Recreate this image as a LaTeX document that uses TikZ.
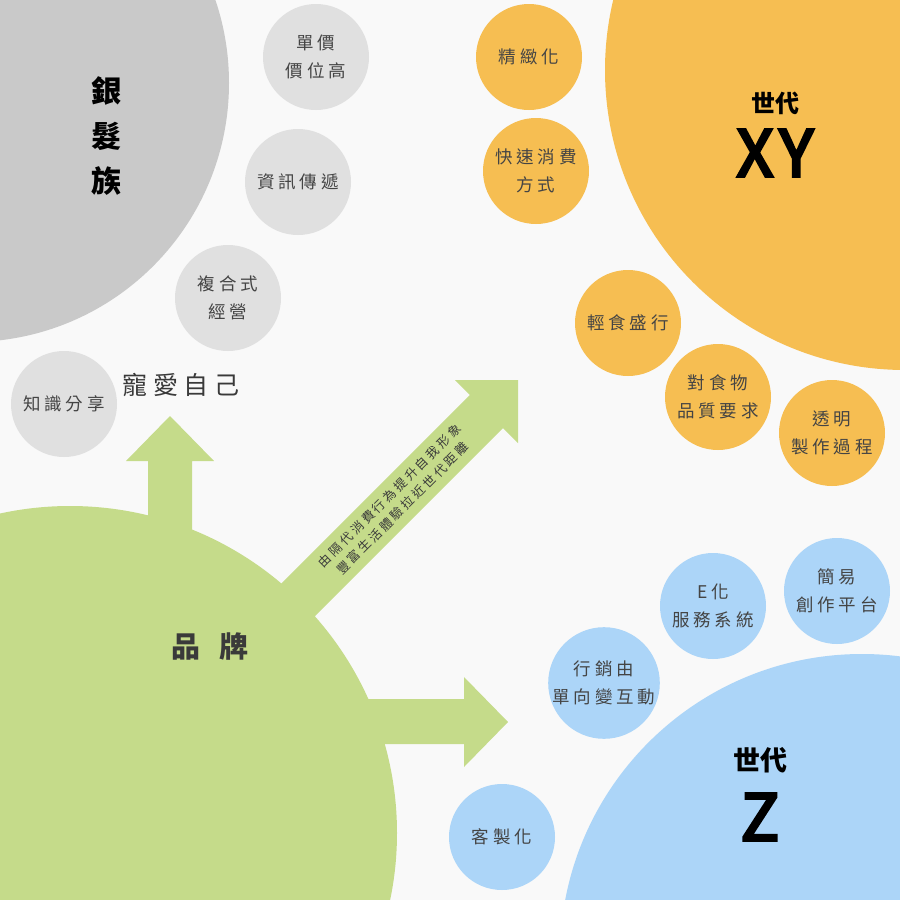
\documentclass[tikz,border=0pt]{standalone}
\usepackage{fontspec}
\setmainfont{Noto Sans CJK TC}
\newfontfamily\cjkspaced[LetterSpace=22]{Noto Sans CJK TC}
\newfontfamily\cjkheavy[FakeBold=4.5]{Noto Sans CJK TC}

\definecolor{paper}{HTML}{F9F9F9}
\definecolor{silverbig}{HTML}{C9C9C9}
\definecolor{silversmall}{HTML}{E0E0E0}
\definecolor{amber}{HTML}{F6BE52}
\definecolor{leaf}{HTML}{C5DB8A}
\definecolor{sky}{HTML}{ACD5F8}
\definecolor{ink}{HTML}{3A3A3A}
\definecolor{softink}{HTML}{444444}

\tikzset{
  bigdisc/.style={circle, inner sep=0pt, minimum size=#1},
  bubble/.style={circle, inner sep=0pt, minimum size=106pt, align=center,
    text=softink, font=\cjkspaced\fontsize{17.5}{28}\selectfont},
  title/.style={font=\bfseries\fontsize{#1}{#1}\selectfont, text=black},
  genletter/.style={font=\cjkheavy\fontsize{64}{64}\selectfont, text=black}
}

\begin{document}
\begin{tikzpicture}[x=1pt, y=-1pt]

    % Page and clipping
    \useasboundingbox (0,0) rectangle (900,900);
    \fill[paper] (0,0) rectangle (900,900);
    \clip (0,0) rectangle (900,900);

    % Large group circles
    \node[bigdisc=518pt, fill=silverbig] (silver) at (-30,83) {};
    \node[bigdisc=600pt, fill=amber] (genxy) at (905,70) {};
    \node[bigdisc=604pt, fill=sky] (genz) at (862,956) {};
    \node[bigdisc=654pt, fill=leaf] (brand) at (70,833) {};

    % Block arrows out of the brand circle
    \fill[leaf] (148,560) -- (148,461) -- (126,461) -- (170,416)
        -- (214,461) -- (192,461) -- (192,560) -- cycle;
    \fill[leaf] (350,699) -- (464,699) -- (464,677) -- (508,722)
        -- (464,767) -- (464,744) -- (350,744) -- cycle;
    \fill[leaf] (263.4,601.4) -- (469.9,394.9) -- (455,380) -- (518,380)
        -- (518,443) -- (503.1,428.1) -- (296.6,634.6) -- cycle;

    % Silver-haired group
    \node[bubble, fill=silversmall] (price) at (316,57) {單價\\價位高};
    \node[bubble, fill=silversmall] (info) at (298,182) {資訊傳遞};
    \node[bubble, fill=silversmall] (combo) at (228,298) {複合式\\經營};
    \node[bubble, fill=silversmall] (share) at (64,404) {知識分享};

    % Generation XY group
    \node[bubble, fill=amber] (refine) at (529,57) {精緻化};
    \node[bubble, fill=amber] (fast) at (536,171) {快速消費\\方式};
    \node[bubble, fill=amber] (light) at (628,323) {輕食盛行};
    \node[bubble, fill=amber] (quality) at (718,397) {對食物\\品質要求};
    \node[bubble, fill=amber] (open) at (832,433) {透明\\製作過程};

    % Generation Z group
    \node[bubble, fill=sky] (eserv) at (713,606) {E化\\服務系統};
    \node[bubble, fill=sky] (create) at (837,591) {簡易\\創作平台};
    \node[bubble, fill=sky] (market) at (604,683) {行銷由\\單向變互動};
    \node[bubble, fill=sky] (custom) at (502,837) {客製化};

    % Titles
    \node[align=center, font=\bfseries\fontsize{30}{45}\selectfont] (silverlabel) at (106,136) {銀\\髮\\族};
    \node[title=24] (xyhead) at (775,103) {世代};
    \node[genletter] (xyname) at (775,153) {X\hspace{6pt}Y};
    \node[title=27] (zhead) at (760,760) {世代};
    \node[genletter] (zname) at (760,817) {Z};
    \node[title=29, text=ink] (brandlabel) at (210,647) {品\hspace{20pt}牌};
    \node[text=ink, font=\cjkspaced\fontsize{25}{25}\selectfont] (selflove) at (181,385) {寵愛自己};

    % Label on the diagonal arrow
    \node[rotate=45, align=center, text=ink,
        font=\cjkspaced\fontsize{12.5}{18}\selectfont] (bridge) at (396,502)
        {由隔代消費行為提升自我形象\\豐富生活體驗拉近世代距離};

\end{tikzpicture}
\end{document}
